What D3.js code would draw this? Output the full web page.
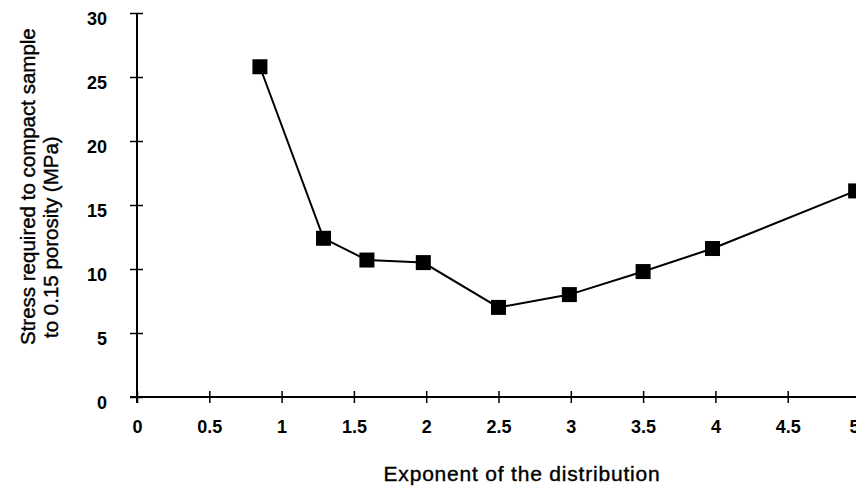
<!DOCTYPE html>
<html><head><meta charset="utf-8">
<script src="https://cdn.jsdelivr.net/npm/d3@7"></script>
<style>body{margin:0;background:#fff}svg{display:block}text{font-family:"Liberation Sans",Arial,sans-serif;fill:#000}</style>
</head><body><svg id="c" width="856" height="487"></svg>
<script>
const exponents = [0.85, 1.29, 1.59, 1.98, 2.5, 2.99, 3.5, 3.98, 4.97];
const stress = [25.8, 12.4, 10.7, 10.5, 7.0, 8.0, 9.8, 11.6, 16.1];
const xTicks = [0, 0.5, 1, 1.5, 2, 2.5, 3, 3.5, 4, 4.5, 5];
const yTicks = [0, 5, 10, 15, 20, 25, 30];
const xTitle = "Exponent of the distribution";
const yTitle = ["Stress required to compact sample", "to 0.15 porosity (MPa)"];

const svg = d3.select("#c");
const x = d3.scaleLinear().domain([0, 5]).range([137, 860]);
const y = d3.scaleLinear().domain([0, 30]).range([397, 13]);
const tickFont = "Liberation Sans, Arial, sans-serif";

// axes
const xAxis = svg.append("g").attr("transform", "translate(0," + y(0) + ")")
  .call(d3.axisBottom(x).tickValues(xTicks).tickSize(0).tickFormat(d3.format("")));
xAxis.select(".domain").remove();
xAxis.append("line").attr("x1", 130).attr("x2", 860).attr("stroke", "#000").attr("stroke-width", 2);
xAxis.selectAll(".tick").append("line").attr("y1", -6).attr("y2", 6).attr("stroke", "#000").attr("stroke-width", 1.5);
xAxis.selectAll(".tick text").attr("y", 23).attr("dy", "0.71em")
  .attr("dx", d => d === 5 ? -6 : 0)
  .style("font-size", "18px").style("font-weight", "bold").style("font-family", tickFont);

const yAxis = svg.append("g").attr("transform", "translate(" + x(0) + ",0)")
  .call(d3.axisLeft(y).tickValues(yTicks).tickSize(0));
yAxis.select(".domain").remove();
yAxis.append("line").attr("y1", y(30)).attr("y2", y(0) + 6).attr("stroke", "#000").attr("stroke-width", 2);
yAxis.selectAll(".tick").append("line").attr("x1", -7).attr("x2", 6).attr("stroke", "#000").attr("stroke-width", 1.5);
yAxis.selectAll(".tick text").attr("x", -30).attr("dy", "0.66em")
  .style("font-size", "18px").style("font-weight", "bold").style("font-family", tickFont);

// line
const data = exponents.map((e, i) => ({e, s: stress[i]}));
svg.append("path").datum(data)
  .attr("fill", "none").attr("stroke", "#000").attr("stroke-width", 2)
  .attr("d", d3.line().x(d => x(d.e)).y(d => y(d.s)));
const sz = 15;
svg.selectAll("rect.m").data(data).join("rect").attr("class", "m")
  .attr("x", d => x(d.e) - sz / 2).attr("y", d => y(d.s) - sz / 2)
  .attr("width", sz).attr("height", sz).attr("fill", "#000");

// titles
svg.append("text").attr("x", 522).attr("y", 481).attr("text-anchor", "middle")
  .style("font-size", "21px").style("letter-spacing", "0.8px")
  .attr("stroke", "#000").attr("stroke-width", 0.4).text(xTitle);
yTitle.forEach((t, i) => {
  const cx = i === 0 ? 35 : 58;
  const cy = i === 0 ? 345 : 338;
  svg.append("text").attr("transform", "translate(" + cx + "," + cy + ") rotate(-90)")
    .attr("text-anchor", "start").style("font-size", "20.5px")
    .attr("stroke", "#000").attr("stroke-width", 0.4).text(t);
});
</script></body></html>
